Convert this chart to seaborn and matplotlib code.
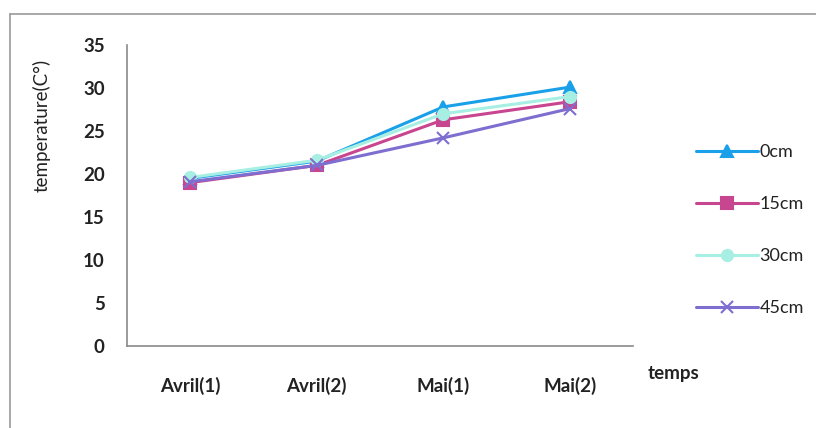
import matplotlib
matplotlib.use("Agg")
import matplotlib.pyplot as plt
from matplotlib.lines import Line2D
import seaborn as sns
import pandas as pd
import numpy as np

periods = ["Avril(1)", "Avril(2)", "Mai(1)", "Mai(2)"]
depths = ["0cm", "15cm", "30cm", "45cm"]
t_0cm = [19.5, 21.5, 27.8, 30.1]
t_15cm = [19.0, 21.0, 26.3, 28.4]
t_30cm = [19.6, 21.6, 27.0, 29.0]
t_45cm = [19.1, 21.0, 24.2, 27.6]
y_ticks = [0, 5, 10, 15, 20, 25, 30, 35]

series = {"0cm": t_0cm, "15cm": t_15cm, "30cm": t_30cm, "45cm": t_45cm}
rows = []
for d in depths:
    for i, p in enumerate(periods):
        rows.append({"pos": i, "periode": p, "profondeur": d, "temp": series[d][i]})
df = pd.DataFrame(rows)

sns.set_style("white")
plt.rcParams["font.family"] = ["Lato", "DejaVu Sans"]

fig = plt.figure(figsize=(8.16, 4.28), dpi=100)
ax = fig.add_axes([127/816, 1 - 346/428, (633-127)/816, (346-45)/428])

palette = {"0cm": "#1aa0e8", "15cm": "#c8458f", "30cm": "#a6efe2", "45cm": "#7d6ed0"}
markers = {"0cm": "^", "15cm": "s", "30cm": "o", "45cm": "x"}
for d in depths:
    sub = df[df["profondeur"] == d]
    sns.lineplot(data=sub, x="pos", y="temp", color=palette[d], marker=markers[d],
                 markersize=8, linewidth=2.2, markeredgewidth=1.5,
                 markeredgecolor=palette[d], ax=ax, legend=False)

ax.set_xlim(-0.5, 3.5)
ax.set_ylim(0, 35)
ax.set_yticks(y_ticks)
ax.set_xticks(range(len(periods)))
ax.set_xticklabels(periods)
ax.set_xticks(np.arange(-0.5, 3.6, 1.0), minor=True)
ax.tick_params(axis="x", which="major", length=0, pad=22, labelsize=13.5, colors="#222222")
ax.tick_params(axis="x", which="minor", length=6, width=1, color="#888888", direction="out")
ax.tick_params(axis="y", which="major", length=6, width=1, color="#888888", direction="out",
               labelsize=13.5, labelcolor="#222222", pad=10)
for lbl in ax.get_xticklabels() + ax.get_yticklabels():
    lbl.set_fontweight("bold")
for s in ["left", "bottom"]:
    ax.spines[s].set_color("#8a8a8a")
    ax.spines[s].set_linewidth(1.2)
for s in ["top", "right"]:
    ax.spines[s].set_visible(False)
ax.set_xlabel("")
ax.set_ylabel("")

fig.text(42/816, 1 - 125/428, "temperature(C°)", rotation=90, ha="center", va="center",
         fontsize=13.5, color="#222222")
fig.text(648/816, 1 - 373/428, "temps", ha="left", va="center", fontsize=13.5,
         fontweight="bold", color="#222222")

handles = [Line2D([0], [0], color=palette[d], marker=markers[d], markersize=8,
                  markeredgewidth=1.5, linewidth=2.2) for d in depths]
fig.legend(handles, depths, loc="center left", bbox_to_anchor=(680/816, 1 - 230/428),
           frameon=False, fontsize=13, labelspacing=2.0, handlelength=3.4,
           handletextpad=0.1, labelcolor="#222222")

fig.add_artist(Line2D([10/816, 1], [1 - 14/428, 1 - 14/428], color="#999999", linewidth=1.2))
fig.add_artist(Line2D([10/816, 10/816], [0, 1 - 14/428], color="#999999", linewidth=1.2))

fig.savefig("out.png", dpi=100)
